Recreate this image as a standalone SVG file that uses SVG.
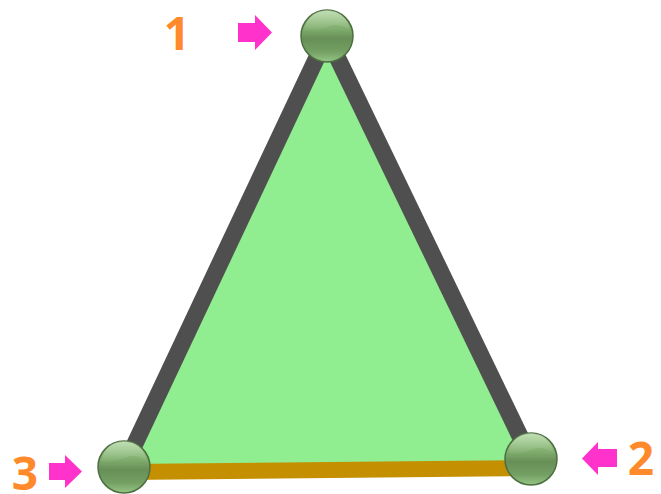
<svg xmlns="http://www.w3.org/2000/svg" width="661" height="494" viewBox="0 0 661 494">
<style>
.edge{stroke:#4f4f4f;stroke-width:17;stroke-linecap:butt;fill:none}
.base{stroke:#c58f02;stroke-width:16;fill:none}
.lbl{font-family:"Open Sans","Liberation Sans",sans-serif;font-weight:bold;font-size:46px;fill:#ff8a2b;text-anchor:middle}
.arrow{fill:#ff33cc}
.ball{fill:url(#ballGrad);stroke:#4c6e40;stroke-width:1.5}
.shine{fill:url(#shineGrad)}
</style>
<defs>
<linearGradient id="ballGrad" x1="0" y1="0" x2="0" y2="1">
<stop offset="0" stop-color="#a0cf8d"/>
<stop offset="0.35" stop-color="#82af70"/>
<stop offset="0.55" stop-color="#678f57"/>
<stop offset="0.8" stop-color="#74a063"/>
<stop offset="1" stop-color="#96c586"/>
</linearGradient>
<linearGradient id="shineGrad" x1="0" y1="0" x2="0" y2="1">
<stop offset="0" stop-color="#ffffff" stop-opacity="0.35"/>
<stop offset="1" stop-color="#ffffff" stop-opacity="0.02"/>
</linearGradient>
</defs>
<g id="triangle-fill">
<polygon points="327,36 531,468 124,472" fill="#90ee90"/>
</g>
<g id="connectors">
<line class="edge" x1="327" y1="36" x2="124" y2="467"/>
<line class="edge" x1="327" y1="36" x2="531" y2="459"/>
<line class="base" x1="124" y1="472" x2="531" y2="468"/>
</g>
<g id="node1">
<circle class="ball" cx="327" cy="36" r="26"/>
<path class="shine" d="M305,30 A22,20 0 0 1 349,30 Q338,22 327,27 Q316,32 305,30 Z"/>
</g>
<g id="node2">
<circle class="ball" cx="531" cy="459" r="26"/>
<path class="shine" d="M509,453 A22,20 0 0 1 553,453 Q542,445 531,450 Q520,455 509,453 Z"/>
</g>
<g id="node3">
<circle class="ball" cx="124" cy="467" r="26"/>
<path class="shine" d="M102,461 A22,20 0 0 1 146,461 Q135,453 124,458 Q113,463 102,461 Z"/>
</g>
<g id="label1">
<text class="lbl" x="177" y="50">1</text>
<polygon class="arrow" points="238,23 255,23 255,15 272,32.5 255,50 255,42 238,42"/>
</g>
<g id="label2">
<text class="lbl" x="641" y="475">2</text>
<polygon class="arrow" points="617,449 598,449 598,442 582,458.5 598,475 598,467 617,467"/>
</g>
<g id="label3">
<text class="lbl" x="25" y="490">3</text>
<polygon class="arrow" points="49,463 65,463 65,455 82,471.5 65,488 65,480 49,480"/>
</g>
</svg>
